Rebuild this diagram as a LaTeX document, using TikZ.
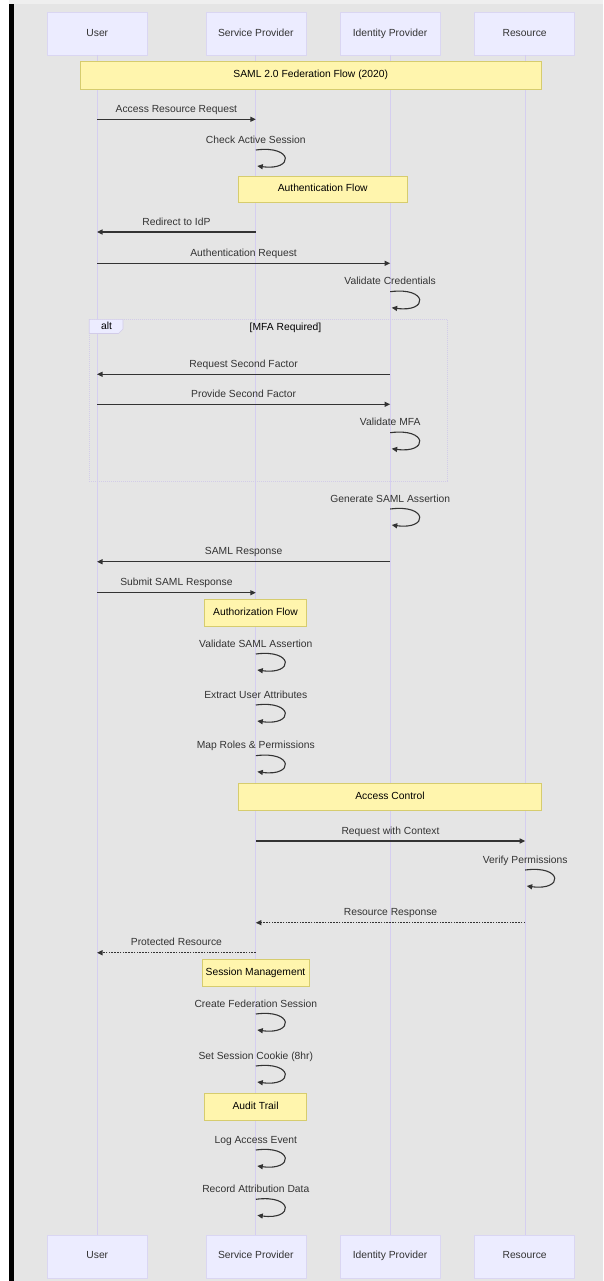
\documentclass[tikz,border=0pt]{standalone}
\usepackage{fontspec}
\setmainfont{Liberation Sans}
\usetikzlibrary{arrows.meta}

\definecolor{canvas}{HTML}{E5E5E5}
\definecolor{strip}{HTML}{EFEFEF}
\definecolor{actorfill}{HTML}{ECECFF}
\definecolor{actorline}{HTML}{DAD6F2}
\definecolor{lifecol}{HTML}{D5CEF0}
\definecolor{notefill}{HTML}{FFF5AD}
\definecolor{noteline}{HTML}{D6CC6E}
\definecolor{ink}{HTML}{333333}
\definecolor{framecol}{HTML}{D2CCE8}

\newcommand{\diagfont}{\fontsize{10.3pt}{12pt}\selectfont}

% lifeline positions
\newcommand{\xU}{97}
\newcommand{\xS}{255.8}
\newcommand{\xI}{390.2}
\newcommand{\xR}{525.2}

\tikzset{
  actor/.style={draw=actorline, fill=actorfill, line width=0.6pt,
    minimum width=100pt, minimum height=43pt, inner sep=0pt,
    text height=7.4pt, text depth=2.2pt,
    text=ink, font=\diagfont},
  note/.style={draw=noteline, fill=notefill, line width=0.6pt,
    inner sep=0pt, text height=7.4pt, text depth=2.2pt,
    text=black, font=\diagfont},
  lifeline/.style={draw=lifecol, line width=0.9pt},
  msg/.style={draw=ink, line width=1.1pt,
    -{Triangle[length=5.5pt,width=5pt]}},
  reply/.style={msg, dash pattern=on 1.6pt off 1.2pt},
  selfmsg/.style={draw=ink, line width=1.1pt,
    -{Triangle[length=5.5pt,width=5pt]}},
  msglabel/.style={text=ink, font=\diagfont, inner sep=0pt,
    text height=7.4pt, text depth=2.2pt},
  altframe/.style={draw=framecol, line width=0.8pt,
    dash pattern=on 1pt off 1pt, inner sep=0pt},
  alttab/.style={draw=framecol, fill=actorfill, line width=0.6pt},
}

% message between two lifelines: [style]{name}{from x}{to x}{y}{label}
\newcommand{\callmsg}[6][msg]{%
  \coordinate (#2-a) at (#3,#5);
  \coordinate (#2-b) at (#4,#5);
  \draw[#1] (#2-a) -- node[msglabel, yshift=9.5pt] (#2-t) {#6} (#2-b);
}

% call to self: {name}{x}{top y}{label}
\newcommand{\selfcall}[4]{%
  \coordinate (#1-a) at (#2,#3);
  \coordinate (#1-b) at (#2+1.5,#3+16);
  \draw[selfmsg] (#1-a) .. controls +(38,-5) and +(37,5) .. (#1-b);
  \node[msglabel] (#1-t) at (#2,#3-9.5) {#4};
}

\begin{document}
\begin{tikzpicture}[x=1pt,y=-1pt]
\useasboundingbox (0,0) rectangle (603,1281);

% page background and left frame bar
\fill[white] (0,0) rectangle (603,1281);
\fill[strip] (9,0) rectangle (603,4.5);
\fill[canvas] (13.5,4.5) rectangle (603,1281);
\fill[black] (9,4.5) rectangle (13.5,1281);

% participants
\node[actor] (userTop) at (97.3,33.7) {User};
\node[actor] (spTop)   at (255.8,33.7) {Service Provider};
\node[actor] (idpTop)  at (390,33.7) {Identity Provider};
\node[actor] (resTop)  at (524.6,33.7) {Resource};
\node[actor] (userBot) at (97.3,1256.3) {User};
\node[actor] (spBot)   at (255.8,1256.3) {Service Provider};
\node[actor] (idpBot)  at (390,1256.3) {Identity Provider};
\node[actor] (resBot)  at (524.6,1256.3) {Resource};

% lifelines
\coordinate (uL1) at (\xU,55);   \coordinate (uL2) at (\xU,1235);
\coordinate (sL1) at (\xS,55);   \coordinate (sL2) at (\xS,1235);
\coordinate (iL1) at (\xI,55);   \coordinate (iL2) at (\xI,1235);
\coordinate (rL1) at (\xR,55);   \coordinate (rL2) at (\xR,1235);
\draw[lifeline] (uL1) -- (uL2);
\draw[lifeline] (sL1) -- (sL2);
\draw[lifeline] (iL1) -- (iL2);
\draw[lifeline] (rL1) -- (rL2);

% alt fragment
\node[altframe, minimum width=358.1pt, minimum height=161.7pt] (altbox) at (268.25,400.15) {};
\draw[alttab] (89.2,319.3) -- (123,319.3) -- (123,329) -- (118.5,333.5) -- (89.2,333.5) -- cycle;
\node[msglabel, text=black] (altlabel) at (106.5,327) {alt};
\node[msglabel, text=black] (altcond) at (285.5,327.5) {[MFA Required]};

% notes
\node[note, minimum width=461.5pt, minimum height=27.3pt] (title) at (310.75,75.35) {SAML 2.0 Federation Flow (2020)};
\node[note, minimum width=168.5pt, minimum height=26.3pt] (authn) at (322.75,189.15) {Authentication Flow};
\node[note, minimum width=101.9pt, minimum height=26.7pt] (authz) at (255.55,612.65) {Authorization Flow};
\node[note, minimum width=303pt, minimum height=26.7pt] (access) at (390,796.65) {Access Control};
\node[note, minimum width=106.5pt, minimum height=27pt] (session) at (255.55,972.5) {Session Management};
\node[note, minimum width=101.9pt, minimum height=26.7pt] (audit) at (255.55,1106.65) {Audit Trail};

% messages
\callmsg{m1}{\xU}{\xS}{119.3}{Access Resource Request}
\selfcall{s1}{\xS}{150}{Check Active Session}
\callmsg{m2}{\xS}{\xU}{232}{Redirect to IdP}
\callmsg{m3}{\xU}{\xI}{263.3}{Authentication Request}
\selfcall{s2}{\xI}{291.7}{Validate Credentials}
\callmsg{m4}{\xI}{\xU}{374.3}{Request Second Factor}
\callmsg{m5}{\xU}{\xI}{404.3}{Provide Second Factor}
\selfcall{s3}{\xI}{432.7}{Validate MFA}
\selfcall{s4}{\xI}{509}{Generate SAML Assertion}
\callmsg{m6}{\xI}{\xU}{561.7}{SAML Response}
\callmsg{m7}{\xU}{\xS}{592.7}{Submit SAML Response}
\selfcall{s5}{\xS}{654}{Validate SAML Assertion}
\selfcall{s6}{\xS}{705}{Extract User Attributes}
\selfcall{s7}{\xS}{755.7}{Map Roles \& Permissions}
\callmsg{m8}{\xS}{\xR}{841}{Request with Context}
\selfcall{s8}{\xR}{870}{Verify Permissions}
\callmsg[reply]{m9}{\xR}{\xS}{922.7}{Resource Response}
\callmsg[reply]{m10}{\xS}{\xU}{952.7}{Protected Resource}
\selfcall{s9}{\xS}{1014}{Create Federation Session}
\selfcall{s10}{\xS}{1066}{Set Session Cookie (8hr)}
\selfcall{s11}{\xS}{1150}{Log Access Event}
\selfcall{s12}{\xS}{1199.3}{Record Attribution Data}

\end{tikzpicture}
\end{document}
